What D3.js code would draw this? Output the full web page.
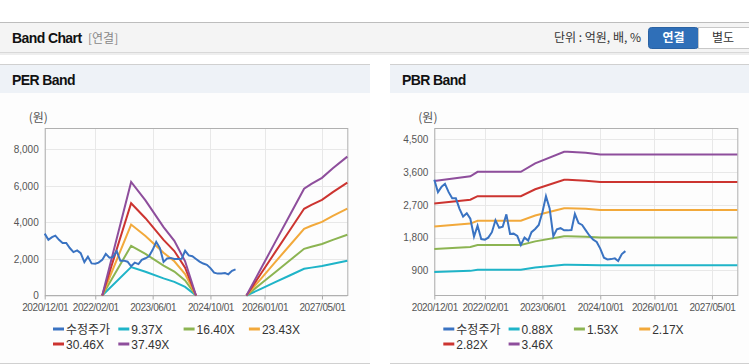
<!DOCTYPE html>
<html>
<head>
<meta charset="utf-8">
<script src="https://cdn.jsdelivr.net/npm/d3@7"></script>
<style>
body { margin: 0; background: #fff; }
svg text { font-family: "Liberation Sans", Arial, sans-serif; }
.kr { font-family: "Noto Sans CJK KR", "Noto Sans", sans-serif !important; }
</style>
</head>
<body>
<svg id="chart"></svg>
<script>
// monthly adjusted price (수정주가), 2020/12 .. 2025/05
var priceMonths = ["2020-12","2021-01","2021-02","2021-03","2021-04","2021-05","2021-06","2021-07","2021-08","2021-09","2021-10","2021-11",
  "2021-12","2022-01","2022-02","2022-03","2022-04","2022-05","2022-06","2022-07","2022-08","2022-09","2022-10","2022-11",
  "2022-12","2023-01","2023-02","2023-03","2023-04","2023-05","2023-06","2023-07","2023-08","2023-09","2023-10","2023-11",
  "2023-12","2024-01","2024-02","2024-03","2024-04","2024-05","2024-06","2024-07","2024-08","2024-09","2024-10","2024-11",
  "2024-12","2025-01","2025-02","2025-03","2025-04","2025-05"];
var price = [3390,3050,3200,3280,3050,2880,2880,2600,2380,2470,2320,1830,
  2130,1760,1745,1800,1950,2280,2070,2100,2440,1900,1910,1850,
  1600,1800,1720,1950,2040,2150,2500,2940,2600,1840,2030,2060,
  2000,2000,2010,2450,2200,2150,2000,1860,1750,1680,1500,1250,
  1200,1210,1230,1160,1350,1430];

// PER band: two segments (gap between them)
var perMonthsA = ["2022-04","2022-12","2023-04","2023-09","2023-12","2024-03","2024-06"];
var perMonthsB = ["2025-08","2025-12","2026-04","2026-08","2026-12","2027-02","2027-05","2027-08","2027-12"];
var perNames = ["9.37X","16.40X","23.43X","30.46X","37.49X"];
var per937  = [0,1555,1302,937,750,469,0,   0,365,731,1096,1462,1527,1612,1743,1902];
var per1640 = [0,2722,2280,1640,1312,820,0, 0,640,1279,1919,2558,2673,2821,3050,3329];
var per2343 = [0,3889,3257,2343,1874,1172,0, 0,914,1828,2741,3655,3819,4030,4358,4756];
var per3046 = [0,5056,4234,3046,2437,1523,0, 0,1188,2376,3564,4752,4965,5239,5666,6183];
var per3749 = [0,6223,5211,3749,2999,1875,0, 0,1462,2924,4386,5848,6111,6448,6973,7610];

// PBR band
var pbrMonths = ["2020-12","2021-10","2021-12","2022-12","2023-04","2023-12","2024-01","2024-06","2024-10","2027-12"];
var pbrNames = ["0.88X","1.53X","2.17X","2.82X","3.46X"];
var pbr088 = [854,887,918,918,977,1058,1058,1051,1039,1039];
var pbr153 = [1486,1542,1596,1596,1698,1839,1839,1827,1807,1807];
var pbr217 = [2107,2187,2263,2263,2409,2608,2608,2591,2563,2563];
var pbr282 = [2738,2843,2941,2941,3130,3390,3390,3367,3330,3330];
var pbr346 = [3360,3488,3609,3609,3841,4159,4159,4131,4086,4086];

var xTicks = ["2020-12-01","2022-02-01","2023-06-01","2024-10-01","2026-01-01","2027-05-01"];
var perTicks = [0,2000,4000,6000,8000];
var pbrTicks = [900,1800,2700,3600,4500];

var colors = ["#3a73c2","#1fb4c8","#8cb452","#f2a93b","#cc3430","#8e4e9c"];
var priceName = "수정주가";

var parseM = d3.timeParse("%Y-%m");
var parseD = d3.timeParse("%Y-%m-%d");

var svg = d3.select('#chart').attr('width', 749).attr('height', 364);

// ---- header
svg.append('line').attr('x1',0).attr('x2',749).attr('y1',22.5).attr('y2',22.5).attr('stroke','#bdbdbd');
svg.append('rect').attr('x',0).attr('y',23).attr('width',749).attr('height',29).attr('fill','#f4f4f4');
svg.append('rect').attr('x',0).attr('y',52).attr('width',749).attr('height',1).attr('fill','#d8d8d8');
svg.append('rect').attr('x',0).attr('y',53).attr('width',749).attr('height',2).attr('fill','#eeeeee');
svg.append('text').attr('x',12).attr('y',43).attr('font-size',14).attr('font-weight','bold')
  .attr('letter-spacing',-0.6).attr('fill','#111').text('Band Chart');
svg.append('text').attr('class','kr').attr('x',88).attr('y',43).attr('font-size',12).attr('fill','#888').text('[연결]');
svg.append('text').attr('class','kr').attr('x',641).attr('y',42).attr('font-size',12).attr('fill','#333')
  .attr('text-anchor','end').text('단위 : 억원, 배, %');
svg.append('rect').attr('x',648.5).attr('y',27.5).attr('width',50).attr('height',21).attr('rx',3)
  .attr('fill','#2f6fb8').attr('stroke','#2a62a3');
svg.append('text').attr('class','kr').attr('x',673.5).attr('y',42).attr('font-size',12).attr('font-weight','bold')
  .attr('fill','#fff').attr('text-anchor','middle').text('연결');
svg.append('rect').attr('x',698.5).attr('y',27.5).attr('width',52).attr('height',21)
  .attr('fill','#fff').attr('stroke','#c8c8c8');
svg.append('text').attr('class','kr').attr('x',723).attr('y',42).attr('font-size',12)
  .attr('fill','#333').attr('text-anchor','middle').text('별도');

function drawPanel(o) {
  var g = svg.append('g');
  g.append('rect').attr('x',o.px).attr('y',64).attr('width',o.pw).attr('height',29).attr('fill','#eef2f7');
  g.append('line').attr('x1',o.px).attr('x2',o.px+o.pw).attr('y1',64.5).attr('y2',64.5).attr('stroke','#d0d0d0');
  g.append('rect').attr('x',o.px).attr('y',93).attr('width',o.pw).attr('height',270).attr('fill','#fdfdfd');
  g.append('line').attr('x1',o.px).attr('x2',o.px+o.pw).attr('y1',363.5).attr('y2',363.5).attr('stroke','#d0d0d0');
  g.append('text').attr('x',o.px+12).attr('y',85).attr('font-size',14).attr('font-weight','bold')
    .attr('letter-spacing',-0.6).attr('fill','#111').text(o.title);

  var x = d3.scaleTime().domain([parseD("2020-12-01"), parseD("2027-12-01")]).range([o.left, o.right]);
  var y = d3.scaleLinear().domain(o.yDomain).range([295.5, 128.5]);

  g.append('text').attr('class','kr').attr('x',o.left-16).attr('y',122).attr('font-size',12).attr('fill','#555')
    .text('(원)');

  // grid
  g.append('g').selectAll('line').data(o.yTicks).enter().append('line')
    .attr('x1',o.left).attr('x2',o.right).attr('y1',function(d){return Math.round(y(d))+0.5;})
    .attr('y2',function(d){return Math.round(y(d))+0.5;}).attr('stroke','#e8e8e8');
  g.append('g').selectAll('line').data(xTicks).enter().append('line')
    .attr('x1',function(d){return Math.round(x(parseD(d)))+0.5;}).attr('x2',function(d){return Math.round(x(parseD(d)))+0.5;})
    .attr('y1',128.5).attr('y2',295.5).attr('stroke','#e8e8e8');

  // axes
  var xa = g.append('g').attr('transform','translate(0,295.5)')
    .call(d3.axisBottom(x).tickValues(xTicks.map(parseD)).tickFormat(d3.timeFormat('%Y/%m/%d')).tickSize(4).tickSizeOuter(0));
  xa.select('.domain').remove();
  xa.selectAll('line').attr('stroke','#aaa');
  xa.selectAll('text').attr('font-size',10).attr('letter-spacing',-0.4).attr('fill','#555').attr('dy','0.85em');
  var ya = g.append('g').attr('transform','translate('+o.left+',0)')
    .call(d3.axisLeft(y).tickValues(o.yTicks).tickFormat(d3.format(',')).tickSize(0));
  ya.select('.domain').remove();
  ya.selectAll('text').attr('font-size',10).attr('fill','#555').attr('dx','-0.3em');

  g.append('rect').attr('x',o.left+0.5).attr('y',128.5).attr('width',o.right-o.left).attr('height',167)
    .attr('fill','none').attr('stroke','#b0b0b0');

  var line = d3.line().defined(function(d){return d[1] != null;})
    .x(function(d){return x(d[0]);}).y(function(d){return y(d[1]);});

  o.bands.forEach(function(b, i) {
    g.append('path').datum(b.dates.map(function(d, j){return [parseM(d), b.values[j]];}))
      .attr('d', line).attr('fill','none').attr('stroke',colors[i+1]).attr('stroke-width',2);
  });
  g.append('path').datum(priceMonths.map(function(d, j){return [parseM(d), price[j]];}))
    .attr('d', line).attr('fill','none').attr('stroke',colors[0]).attr('stroke-width',2);

  // legend
  var names = [priceName].concat(o.names);
  var lg = g.append('g').selectAll('g').data(names).enter().append('g')
    .attr('transform', function(d, i){ return 'translate(' + (o.px + o.legX + (i % 4) * 65.3) + ',' + (329 + Math.floor(i / 4) * 15) + ')'; });
  lg.append('line').attr('x1',0).attr('x2',11).attr('y1',0).attr('y2',0)
    .attr('stroke',function(d,i){return colors[i];}).attr('stroke-width',3);
  lg.append('text').attr('class',function(d,i){return i==0 ? 'kr' : null;}).attr('x',13).attr('y',4.5).attr('font-size',12).attr('fill','#333')
    .text(function(d){return d;});
}

drawPanel({
  px: 0, pw: 370, title: 'PER Band', left: 44.7, right: 347.3, yDomain: [0, 9150], yTicks: perTicks,
  names: perNames, legX: 53,
  bands: [per937, per1640, per2343, per3046, per3749].map(function(v){
    // a null between the two segments so the line breaks
    var vals = v.slice(0, perMonthsA.length).concat([null]).concat(v.slice(perMonthsA.length));
    return { dates: perMonthsA.concat(["2025-01"]).concat(perMonthsB), values: vals };
  })
});

drawPanel({
  px: 390, pw: 359, title: 'PBR Band', left: 434.3, right: 737.3, yDomain: [210, 4800], yTicks: pbrTicks,
  names: pbrNames, legX: 53.3,
  bands: [pbr088, pbr153, pbr217, pbr282, pbr346].map(function(v){ return { dates: pbrMonths, values: v }; })
});
</script>
</body>
</html>
